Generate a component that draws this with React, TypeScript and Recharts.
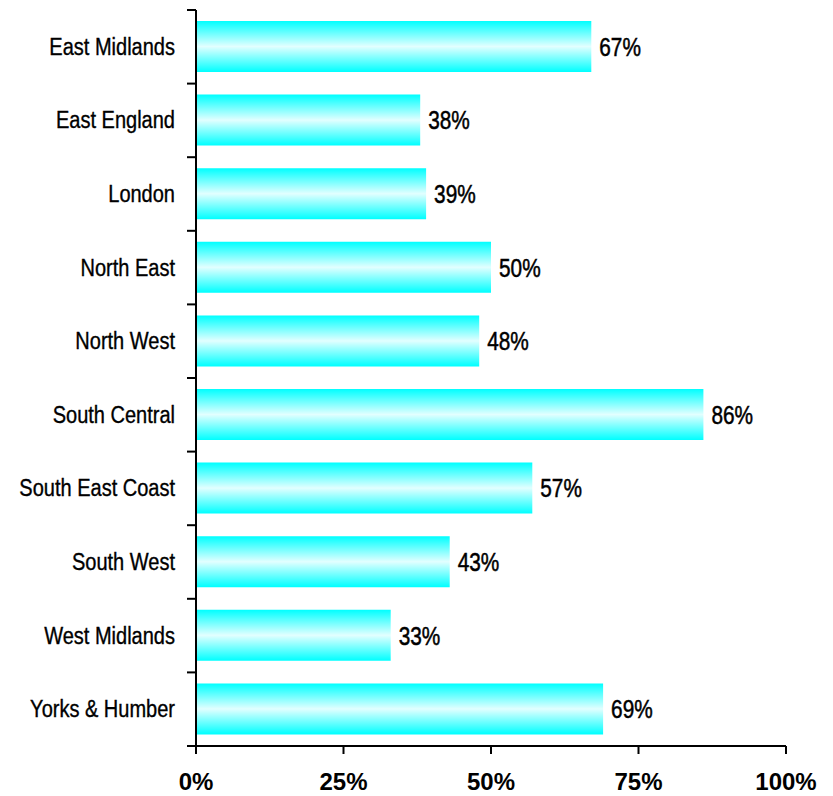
import React from 'react';
import { BarChart, Bar, XAxis, YAxis, LabelList } from 'recharts';

const regions = [
  'East Midlands',
  'East England',
  'London',
  'North East',
  'North West',
  'South Central',
  'South East Coast',
  'South West',
  'West Midlands',
  'Yorks & Humber',
];
const shares = [67, 38, 39, 50, 48, 86, 57, 43, 33, 69];
const xTicks = [0, 25, 50, 75, 100];

const chartData = regions.map((name, i) => ({ name, value: shares[i] }));

const sans = '"Liberation Sans", Arial, sans-serif';

// label + tick mark on the band edges (between categories) instead of the middle
const CategoryTick = (props: any) => {
  const { x, y, payload, index, visibleTicksCount } = props;
  const half = payload.offset || 0;
  const last = index === visibleTicksCount - 1;
  return (
    <g>
      <line x1={x + 12} x2={x + 21} y1={y - half} y2={y - half} stroke="#000" strokeWidth={2} />
      {last && <line x1={x + 12} x2={x + 21} y1={y + half} y2={y + half} stroke="#000" strokeWidth={2} />}
      <text
        transform={`translate(${x},${y}) scale(0.87,1)`}
        dy="0.35em"
        textAnchor="end"
        fill="#000"
        stroke="#000"
        strokeWidth={0.35}
        fontSize={23}
        fontFamily={sans}
      >
        {payload.value}
      </text>
    </g>
  );
};

const ValueLabel = (props: any) => {
  const { x, y, width, height, value } = props;
  return (
    <text
      transform={`translate(${x + width + 8},${y + height / 2}) scale(0.8,1)`}
      dy="0.36em"
      textAnchor="start"
      fill="#000"
      stroke="#000"
      strokeWidth={0.5}
      fontSize={26}
      fontFamily={sans}
    >
      {value}%
    </text>
  );
};

const App: React.FC = () => {
  return (
    <BarChart
      width={825}
      height={788}
      data={chartData}
      layout="vertical"
      margin={{ top: 2, right: 47, left: 0, bottom: 0 }}
    >
      <defs>
        <linearGradient id="barFill" x1="0" y1="0" x2="0" y2="1">
          <stop offset="0%" stopColor="#00ffff" />
          <stop offset="50%" stopColor="#e2ffff" />
          <stop offset="100%" stopColor="#00ffff" />
        </linearGradient>
      </defs>
      <XAxis
        type="number"
        domain={[0, 100]}
        ticks={xTicks}
        tickFormatter={(v) => `${v}%`}
        height={50}
        tickSize={8}
        tickMargin={19}
        axisLine={{ stroke: '#000', strokeWidth: 2 }}
        tickLine={{ stroke: '#000', strokeWidth: 2 }}
        tick={{ fill: '#000', fontSize: 24, fontWeight: 'bold', fontFamily: sans }}
      />
      <YAxis
        type="category"
        dataKey="name"
        width={188}
        tickSize={0}
        tickMargin={21}
        axisLine={{ stroke: '#000', strokeWidth: 2 }}
        tickLine={false}
        tick={<CategoryTick />}
        interval={0}
      />
      <Bar dataKey="value" barSize={51} fill="url(#barFill)" isAnimationActive={false}>
        <LabelList dataKey="value" content={<ValueLabel />} />
      </Bar>
    </BarChart>
  );
};

export default App;
